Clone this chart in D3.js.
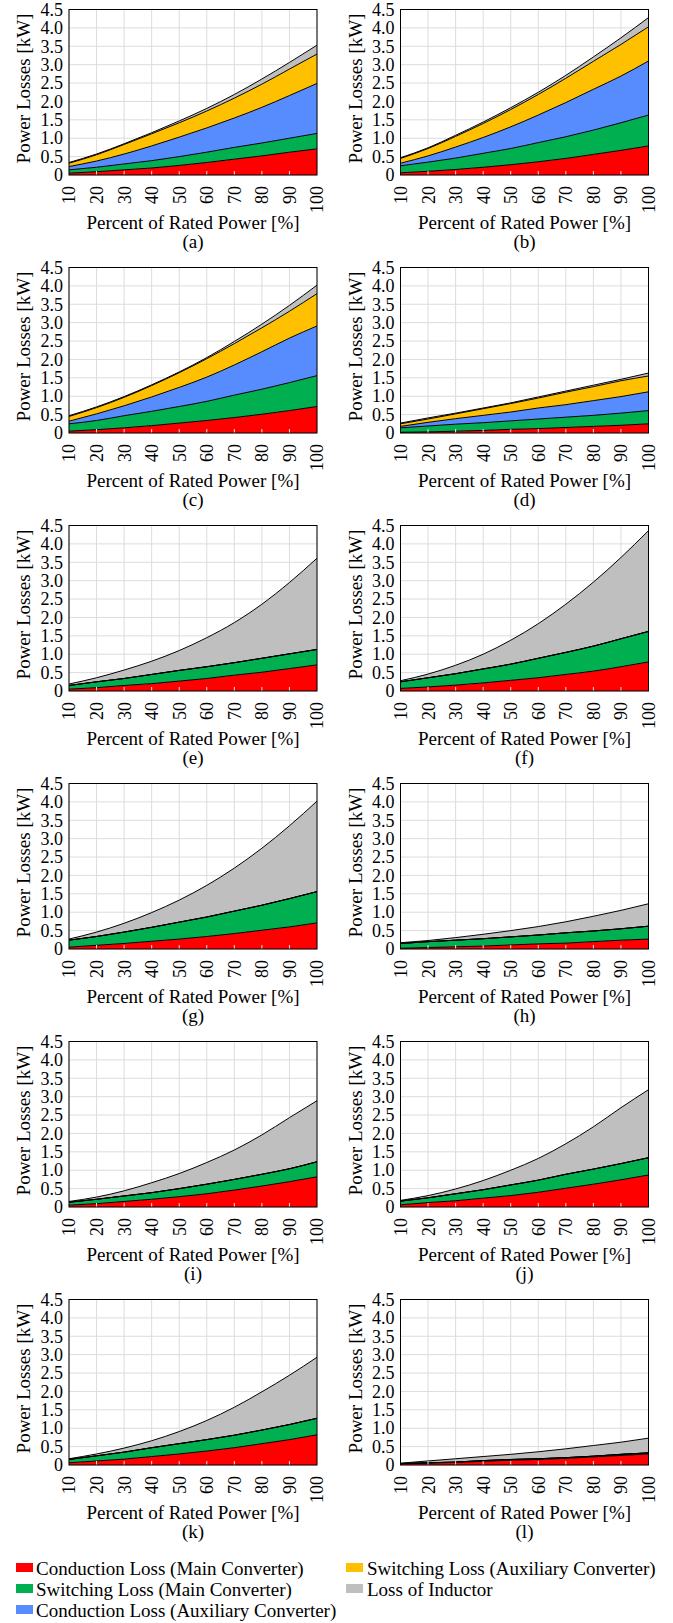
<!DOCTYPE html>
<html><head><meta charset="utf-8">
<script src="https://cdn.jsdelivr.net/npm/d3@7/dist/d3.min.js"></script>
<style>body{margin:0;background:#fff}text{font-family:'Liberation Serif','DejaVu Serif','Noto Serif',serif}</style>
</head><body>
<svg id="c" width="673" height="1623"></svg>
<script>
// ---------- data ----------
const pct = [10,20,30,40,50,60,70,80,90,100];
const yTickValues = [0,0.5,1,1.5,2,2.5,3,3.5,4,4.5];
const yTickLabels = ["0","0.5","1.0","1.5","2.0","2.5","3.0","3.5","4.0","4.5"];
const panelLabels = ["(a)","(b)","(c)","(d)","(e)","(f)","(g)","(h)","(i)","(j)","(k)","(l)"];
const seriesKeys = ["condMain","swMain","condAux","swAux","inductor"];
const seriesNames = ["Conduction Loss (Main Converter)","Switching Loss (Main Converter)",
  "Conduction Loss (Auxiliary Converter)","Switching Loss (Auxiliary Converter)","Loss of Inductor"];
const xLabel = "Percent of Rated Power [%]";
const yLabel = "Power Losses [kW]";

// one row per panel (a..l), values in kW at pct
const condMain = [
  [0.05,0.09,0.14,0.19,0.26,0.34,0.43,0.52,0.62,0.71],
  [0.06,0.10,0.15,0.21,0.28,0.36,0.45,0.56,0.67,0.79],
  [0.05,0.09,0.14,0.20,0.27,0.34,0.42,0.51,0.61,0.72],
  [0.02,0.03,0.05,0.07,0.10,0.12,0.15,0.18,0.21,0.25],
  [0.05,0.09,0.15,0.20,0.27,0.34,0.43,0.51,0.61,0.71],
  [0.07,0.11,0.16,0.22,0.29,0.36,0.45,0.54,0.66,0.79],
  [0.05,0.10,0.15,0.21,0.27,0.34,0.42,0.51,0.60,0.71],
  [0.02,0.04,0.06,0.08,0.11,0.14,0.16,0.20,0.24,0.27],
  [0.05,0.09,0.15,0.21,0.28,0.36,0.46,0.57,0.69,0.82],
  [0.06,0.12,0.17,0.24,0.31,0.40,0.51,0.62,0.74,0.87],
  [0.06,0.11,0.16,0.23,0.30,0.38,0.47,0.58,0.69,0.82],
  [0.03,0.05,0.07,0.10,0.13,0.15,0.18,0.22,0.26,0.30]
];
const swMain = [
  [0.09,0.12,0.16,0.20,0.24,0.28,0.32,0.35,0.38,0.42],
  [0.19,0.25,0.31,0.38,0.44,0.52,0.59,0.66,0.75,0.84],
  [0.20,0.25,0.33,0.39,0.45,0.52,0.61,0.68,0.76,0.84],
  [0.12,0.16,0.19,0.21,0.23,0.26,0.28,0.30,0.33,0.36],
  [0.10,0.16,0.19,0.25,0.29,0.32,0.34,0.38,0.40,0.42],
  [0.18,0.25,0.31,0.38,0.44,0.53,0.60,0.68,0.76,0.83],
  [0.19,0.24,0.31,0.38,0.46,0.53,0.61,0.68,0.77,0.85],
  [0.13,0.16,0.18,0.20,0.22,0.24,0.28,0.29,0.31,0.35],
  [0.08,0.12,0.15,0.18,0.22,0.26,0.29,0.32,0.35,0.41],
  [0.10,0.13,0.19,0.23,0.29,0.33,0.38,0.41,0.44,0.47],
  [0.09,0.14,0.19,0.24,0.28,0.31,0.34,0.37,0.41,0.45],
  [0.01,0.01,0.01,0.02,0.02,0.02,0.02,0.02,0.03,0.03]
];
const condAux = [
  [0.09,0.17,0.27,0.40,0.53,0.66,0.80,0.97,1.16,1.36],
  [0.07,0.17,0.30,0.43,0.59,0.75,0.93,1.11,1.27,1.47],
  [0.07,0.18,0.27,0.39,0.52,0.66,0.82,1.02,1.21,1.35],
  [0.04,0.10,0.15,0.20,0.24,0.30,0.34,0.40,0.45,0.51],
  [0,0,0,0,0,0,0,0,0,0],
  [0,0,0,0,0,0,0,0,0,0],
  [0,0,0,0,0,0,0,0,0,0],
  [0,0,0,0,0,0,0,0,0,0],
  [0,0,0,0,0,0,0,0,0,0],
  [0,0,0,0,0,0,0,0,0,0],
  [0,0,0,0,0,0,0,0,0,0],
  [0,0,0,0,0,0,0,0,0,0]
];
const swAux = [
  [0.09,0.17,0.26,0.33,0.39,0.46,0.54,0.63,0.72,0.80],
  [0.13,0.20,0.29,0.38,0.47,0.56,0.66,0.76,0.86,0.93],
  [0.13,0.17,0.23,0.31,0.40,0.50,0.58,0.65,0.73,0.88],
  [0.07,0.09,0.13,0.18,0.23,0.27,0.34,0.38,0.43,0.43],
  [0,0,0,0,0,0,0,0,0,0],
  [0,0,0,0,0,0,0,0,0,0],
  [0,0,0,0,0,0,0,0,0,0],
  [0,0,0,0,0,0,0,0,0,0],
  [0,0,0,0,0,0,0,0,0,0],
  [0,0,0,0,0,0,0,0,0,0],
  [0,0,0,0,0,0,0,0,0,0],
  [0,0,0,0,0,0,0,0,0,0]
];
const inductor = [
  [0.02,0.02,0.02,0.03,0.05,0.07,0.10,0.14,0.18,0.24],
  [0.02,0.02,0.03,0.04,0.05,0.06,0.08,0.12,0.18,0.25],
  [0.02,0.02,0.02,0.02,0.02,0.03,0.06,0.10,0.16,0.23],
  [0.02,0.03,0.02,0.02,0.02,0.03,0.03,0.04,0.04,0.08],
  [0.04,0.11,0.23,0.36,0.54,0.79,1.09,1.47,1.94,2.48],
  [0.03,0.10,0.23,0.40,0.65,0.94,1.31,1.74,2.21,2.74],
  [0.03,0.12,0.24,0.40,0.60,0.86,1.17,1.55,1.98,2.46],
  [0.02,0.03,0.07,0.12,0.17,0.23,0.30,0.40,0.50,0.61],
  [0.02,0.06,0.14,0.27,0.41,0.59,0.80,1.07,1.39,1.66],
  [0.02,0.06,0.13,0.25,0.40,0.59,0.83,1.15,1.52,1.85],
  [0.02,0.05,0.11,0.19,0.33,0.52,0.76,1.04,1.34,1.66],
  [0.01,0.05,0.09,0.11,0.14,0.19,0.24,0.29,0.33,0.40]
];
const seriesData = [condMain, swMain, condAux, swAux, inductor];

// ---------- style / layout ----------
const colors = ["#ff0000","#00b050","#578cff","#ffc000","#bfbfbf"];
const plotW = 248, plotH = 165.5;
const colLeft = [69, 400.5];
const rowTop0 = 9.5, rowStep = 258;
const FS = 18, FT = 19;
const FONT = "'Liberation Serif','DejaVu Serif','Noto Serif',serif";

const svg = d3.select("#c");
const x = d3.scaleLinear().domain([10,100]).range([0, plotW]);
const y = d3.scaleLinear().domain([0,4.5]).range([plotH, 0]);
const stack = d3.stack().keys(seriesKeys);
const area = d3.area().curve(d3.curveMonotoneX).x(d => x(d.data.pct)).y0(d => y(d[0])).y1(d => y(d[1]));
const topLine = d3.line().curve(d3.curveMonotoneX).x(d => x(d.data.pct)).y(d => y(d[1]));

panelLabels.forEach((lab, p) => {
  const col = p % 2, row = Math.floor(p / 2);
  const g = svg.append("g").attr("transform", `translate(${colLeft[col]},${rowTop0 + row*rowStep})`);
  const rows = pct.map((v, i) => {
    const o = {pct: v};
    seriesKeys.forEach((k, s) => o[k] = seriesData[s][p][i]);
    return o;
  });
  const layers = stack(rows);

  // grid
  g.append("g").selectAll("line").data(pct).join("line")
    .attr("x1", d => x(d)).attr("x2", d => x(d)).attr("y1", 0).attr("y2", plotH)
    .attr("stroke", "#dcdcdc").attr("stroke-width", 1);
  g.append("g").selectAll("line").data(yTickValues).join("line")
    .attr("x1", 0).attr("x2", plotW).attr("y1", d => y(d)).attr("y2", d => y(d))
    .attr("stroke", "#dcdcdc").attr("stroke-width", 1);

  // areas
  g.append("g").selectAll("path").data(layers).join("path")
    .attr("d", area).attr("fill", (d, i) => colors[i]);
  // boundary lines
  g.append("g").selectAll("path").data(layers).join("path")
    .attr("d", topLine).attr("fill", "none").attr("stroke", "#000").attr("stroke-width", 1);

  // inner ticks (light)
  g.append("g").selectAll("line").data(pct.slice(1, -1)).join("line")
    .attr("x1", d => x(d)).attr("x2", d => x(d)).attr("y1", plotH).attr("y2", plotH - 4)
    .attr("stroke", "#e6e6e6").attr("stroke-width", 1);

  // frame
  g.append("rect").attr("x", 0).attr("y", 0).attr("width", plotW).attr("height", plotH)
    .attr("fill", "none").attr("stroke", "#000").attr("stroke-width", 1);

  // y axis labels
  const ya = g.append("g").call(d3.axisLeft(y).tickValues(yTickValues)
      .tickFormat((d, i) => yTickLabels[i]).tickSize(0).tickPadding(6));
  ya.attr("font-family", FONT);
  ya.select(".domain").remove();
  ya.selectAll("text").attr("font-size", FS).attr("fill", "#000").style("font-family", FONT);

  // x axis labels (rotated)
  const xa = g.append("g").attr("transform", `translate(0,${plotH})`)
    .call(d3.axisBottom(x).tickValues(pct).tickFormat(d3.format("d")).tickSize(0));
  xa.attr("font-family", FONT);
  xa.select(".domain").remove();
  xa.selectAll("text").attr("font-size", FS).attr("fill", "#000").style("font-family", FONT)
    .attr("transform", "rotate(-90)").attr("text-anchor", "end")
    .attr("x", -11).attr("y", 0).attr("dy", "0.33em");

  // axis titles
  g.append("text").attr("transform", `translate(-44.5,${79}) rotate(-90)`)
    .attr("text-anchor", "middle").attr("dy", "0.3em").attr("font-size", FT)
    .style("font-family", FONT).text(yLabel);
  g.append("text").attr("x", plotW/2).attr("y", 219.5).attr("text-anchor", "middle")
    .attr("font-size", FT).style("font-family", FONT).text(xLabel);
  g.append("text").attr("x", plotW/2).attr("y", 238).attr("text-anchor", "middle")
    .attr("font-size", FT).style("font-family", FONT).text(lab);
});

// ---------- legend ----------
const legendPos = [
  {sx: 16, tx: 36, base: 1575},
  {sx: 16, tx: 36, base: 1596},
  {sx: 16, tx: 36, base: 1617},
  {sx: 346, tx: 367, base: 1575},
  {sx: 346, tx: 367, base: 1596}
];
const lg = svg.append("g");
seriesNames.forEach((name, i) => {
  const pos = legendPos[i];
  lg.append("rect").attr("x", pos.sx).attr("y", pos.base - 12).attr("width", 17).attr("height", 9)
    .attr("fill", colors[i]);
  lg.append("text").attr("x", pos.tx).attr("y", pos.base).attr("font-size", 19)
    .style("font-family", FONT).text(name);
});
</script>
</body></html>
